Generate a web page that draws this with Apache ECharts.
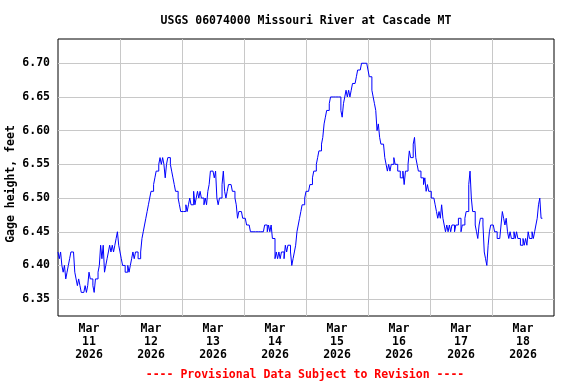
<!DOCTYPE html>
<html><head><meta charset="utf-8">
<script src="https://cdn.jsdelivr.net/npm/echarts@6/dist/echarts.min.js"></script>
<style>html,body{margin:0;padding:0;background:#fff}#c{width:576px;height:384px}</style>
</head><body><div id="c"></div>
<script>
const titleText = 'USGS 06074000 Missouri River at Cascade MT';
const footerText = '---- Provisional Data Subject to Revision ----';
const yName = 'Gage height, feet';
const dayLabels = ['Mar\n11\n2026','Mar\n12\n2026','Mar\n13\n2026','Mar\n14\n2026','Mar\n15\n2026','Mar\n16\n2026','Mar\n17\n2026','Mar\n18\n2026'];
// gage height, feet, every 30 minutes starting at local midnight of each day
const mar11 = [6.42,6.41,6.42,6.40,6.39,6.40,6.38,6.39,6.40,6.41,6.42,6.42,6.42,6.39,6.38,6.37,6.38,6.37,6.36,6.36,6.36,6.37,6.36,6.37,6.39,6.38,6.38,6.37,6.36,6.38,6.38,6.39,6.40,6.43,6.41,6.43,6.39,6.40,6.41,6.42,6.43,6.42,6.43,6.42,6.43,6.44,6.45,6.43];
const mar12 = [6.42,6.41,6.40,6.40,6.39,6.39,6.40,6.39,6.40,6.41,6.42,6.41,6.42,6.42,6.41,6.41,6.42,6.44,6.45,6.46,6.47,6.48,6.49,6.50,6.51,6.51,6.52,6.53,6.54,6.54,6.55,6.56,6.55,6.56,6.55,6.53,6.55,6.56,6.56,6.55,6.54,6.53,6.52,6.51,6.51,6.50,6.49,6.48];
const mar13 = [6.48,6.48,6.48,6.49,6.48,6.49,6.50,6.49,6.49,6.51,6.49,6.50,6.51,6.50,6.51,6.50,6.50,6.49,6.50,6.49,6.51,6.52,6.54,6.54,6.54,6.53,6.54,6.50,6.49,6.50,6.50,6.52,6.54,6.51,6.50,6.51,6.52,6.52,6.52,6.51,6.51,6.50,6.49,6.47,6.48,6.48,6.48,6.47];
const mar14 = [6.47,6.47,6.46,6.46,6.46,6.45,6.45,6.45,6.45,6.45,6.45,6.45,6.45,6.45,6.45,6.45,6.46,6.46,6.45,6.46,6.45,6.46,6.44,6.44,6.41,6.42,6.41,6.42,6.41,6.42,6.42,6.41,6.43,6.42,6.43,6.43,6.42,6.40,6.41,6.42,6.43,6.45,6.46,6.47,6.48,6.49,6.49,6.50];
const mar15 = [6.51,6.51,6.51,6.52,6.52,6.53,6.54,6.54,6.55,6.56,6.57,6.57,6.58,6.59,6.61,6.62,6.63,6.63,6.64,6.65,6.65,6.65,6.65,6.65,6.65,6.65,6.65,6.63,6.62,6.64,6.65,6.66,6.65,6.66,6.65,6.66,6.67,6.67,6.67,6.68,6.69,6.69,6.69,6.70,6.70,6.70,6.70,6.70];
const mar16 = [6.69,6.68,6.68,6.66,6.65,6.64,6.63,6.60,6.61,6.59,6.58,6.58,6.58,6.56,6.55,6.54,6.55,6.54,6.55,6.55,6.56,6.55,6.55,6.54,6.54,6.53,6.53,6.54,6.52,6.54,6.54,6.55,6.57,6.56,6.56,6.58,6.59,6.56,6.55,6.54,6.54,6.53,6.53,6.52,6.53,6.51,6.52,6.51];
const mar17 = [6.51,6.50,6.50,6.50,6.49,6.48,6.47,6.48,6.47,6.49,6.47,6.46,6.45,6.46,6.45,6.46,6.45,6.46,6.46,6.45,6.46,6.46,6.47,6.47,6.45,6.46,6.46,6.47,6.48,6.48,6.52,6.54,6.50,6.48,6.48,6.46,6.45,6.44,6.46,6.47,6.47,6.46,6.42,6.41,6.40,6.43,6.45,6.46];
const mar18 = [6.46,6.46,6.45,6.45,6.44,6.44,6.44,6.46,6.48,6.47,6.46,6.47,6.45,6.44,6.45,6.44,6.44,6.45,6.44,6.45,6.44,6.44,6.43,6.43,6.44,6.43,6.44,6.43,6.45,6.44,6.44,6.45,6.44,6.45,6.46,6.47,6.49,6.50,6.47,6.47];

const days = [mar11, mar12, mar13, mar14, mar15, mar16, mar17, mar18];
const stepHours = 0.5;
const data = [];
days.forEach((arr, d) => arr.forEach((v, i) => data.push([d * 24 + i * stepHours, v])));
const labelHours = dayLabels.map((_, d) => d * 24 + 12);

const FONT = "'DejaVu Sans Mono', monospace";
const chart = echarts.init(document.getElementById('c'), null, {renderer: 'canvas'});
chart.setOption({
  animation: false,
  backgroundColor: '#fff',
  title: [
    {text: titleText, left: 306, top: 15, textAlign: 'center', padding: 0,
     textStyle: {fontFamily: FONT, fontSize: 11.5, fontWeight: 'bold', color: '#000'}},
    {text: footerText, left: 305, top: 369, textAlign: 'center', padding: 0,
     textStyle: {fontFamily: FONT, fontSize: 11.5, fontWeight: 'bold', color: '#ff0000'}}
  ],
  grid: {left: 58, right: 22, top: 39, bottom: 68, show: true, borderColor: '#000', borderWidth: 1,
         backgroundColor: 'transparent', containLabel: false, outerBoundsMode: 'none'},
  xAxis: {
    type: 'value', min: 0, max: 192, interval: 24,
    axisLine: {show: false}, axisTick: {show: false},
    axisLabel: {customValues: labelHours, formatter: v => dayLabels[Math.round((v - 12) / 24)],
      fontFamily: FONT, fontSize: 11.5, fontWeight: 'bold', color: '#000', lineHeight: 13, margin: 7},
    splitLine: {show: true, showMinLine: false, showMaxLine: false, lineStyle: {color: '#c8c8c8', width: 1}}
  },
  yAxis: {
    type: 'value', min: 6.325, max: 6.736, splitNumber: 8, minInterval: 0.05, maxInterval: 0.05,
    name: yName, nameLocation: 'middle', nameGap: 41, nameRotate: 90, nameMoveOverlap: false,
    nameTextStyle: {fontFamily: FONT, fontSize: 11.5, fontWeight: 'bold', color: '#000', padding: [0, 13, 0, 0]},
    axisLine: {show: false}, axisTick: {show: false},
    axisLabel: {showMinLabel: false, showMaxLabel: false, formatter: v => v.toFixed(2),
      fontFamily: FONT, fontSize: 11.5, fontWeight: 'bold', color: '#000', margin: 8},
    splitLine: {show: true, showMinLine: false, showMaxLine: false, lineStyle: {color: '#c8c8c8', width: 1}}
  },
  series: [{
    type: 'line', data: data, step: 'end', symbol: 'none', showSymbol: false, silent: true,
    lineStyle: {color: '#0000ff', width: 1}
  }]
});
</script></body></html>
